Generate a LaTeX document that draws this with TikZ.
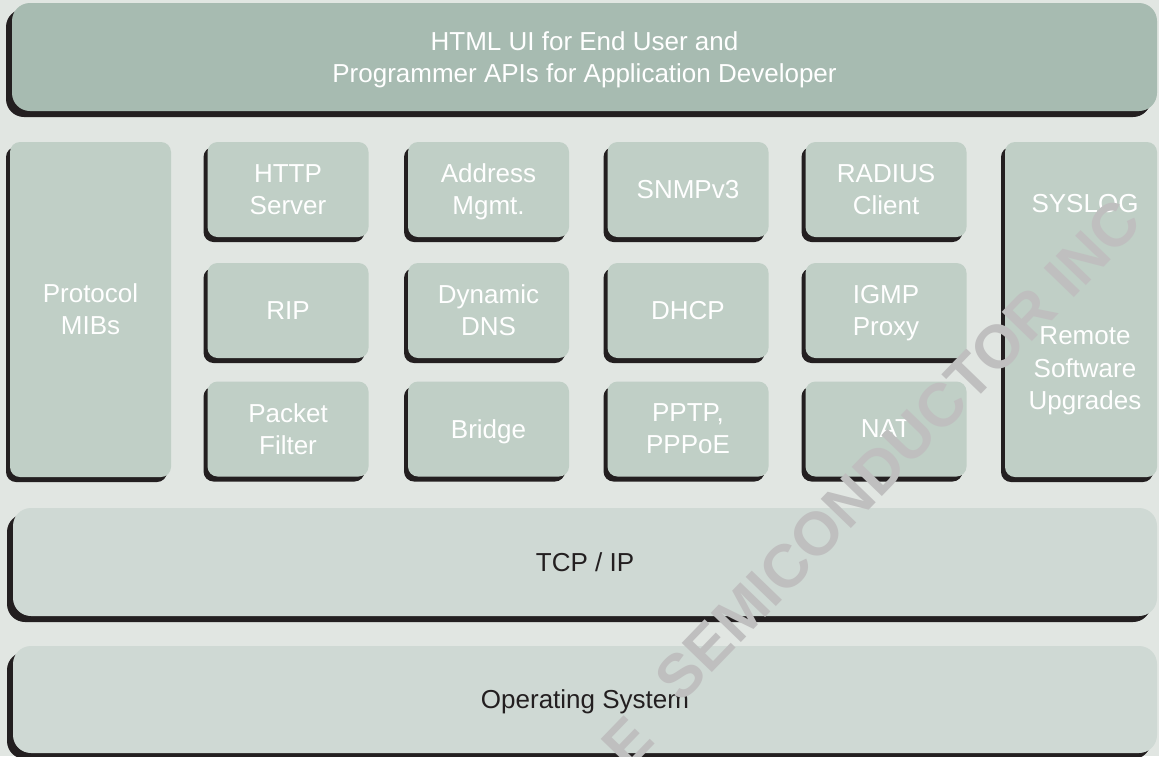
\documentclass[tikz,border=0pt]{standalone}
\usepackage{fontspec}
\setmainfont{Liberation Sans}
\usetikzlibrary{shadows}
\definecolor{bgc}{HTML}{E1E6E2}
\definecolor{topc}{HTML}{A7BBB1}
\definecolor{boxc}{HTML}{C0CFC6}
\definecolor{layc}{HTML}{CFD9D4}
\definecolor{shc}{HTML}{231F20}
\definecolor{wmc}{HTML}{BFBFBF}
\newcommand{\NoDepth}[1]{\raisebox{0pt}[\height][0pt]{#1}}
\tikzset{
  base/.style={rounded corners=#1, inner sep=0pt, align=center,
    font=\fontsize{26}{32}\selectfont},
  smallbox/.style={base=10pt, fill=boxc, text=white,
    minimum width=161pt, minimum height=95pt,
    drop shadow={shadow xshift=-4pt, shadow yshift=-5pt, fill=shc, opacity=1}},
  tallbox/.style={base=10pt, fill=boxc, text=white,
    minimum width=161pt, minimum height=335pt,
    drop shadow={shadow xshift=-4pt, shadow yshift=-5pt, fill=shc, opacity=1}},
  bigbox/.style={base=18pt, minimum width=1145pt, minimum height=108pt,
    drop shadow={shadow xshift=-6pt, shadow yshift=-6pt, fill=shc, opacity=1}},
  txt/.style={inner sep=0pt, align=center, text=white,
    font=\fontsize{26}{32.5}\selectfont},
  wm/.style={inner sep=0pt, rotate=46, text=wmc,
    font=\fontsize{61}{61}\selectfont\bfseries}
}
\begin{document}
\begin{tikzpicture}[x=1pt,y=-1pt]
\fill[bgc] (0,0) rectangle (1159,756);
\useasboundingbox (0,0) rectangle (1159,756);
% top layer
\node[bigbox, fill=topc, text=white] (ui) at (584.5,57)
  {HTML UI for End User and\\\NoDepth{Programmer APIs for Application Developer}};
% left column
\node[tallbox] (mib) at (90.5,309.5) {Protocol\\MIBs};
% row 1
\node[smallbox] (http) at (288,189.5) {HTTP\\Server};
\node[smallbox] (addr) at (488.5,189.5) {Address\\\NoDepth{Mgmt.}};
\node[smallbox] (snmp) at (688,189.5) {SNMPv3};
\node[smallbox] (radius) at (886,189.5) {RADIUS\\Client};
% row 2
\node[smallbox] (rip) at (288,310.5) {RIP};
\node[smallbox] (ddns) at (488.5,310.5) {Dynamic\\DNS};
\node[smallbox] (dhcp) at (688,310.5) {DHCP};
\node[smallbox] (igmp) at (886,310.5) {IGMP\\\NoDepth{Proxy}};
% row 3
\node[smallbox] (pf) at (288,429) {Packet\\Filter};
\node[smallbox] (bridge) at (488.5,429) {\NoDepth{Bridge}};
\node[smallbox] (pptp) at (688,429) {PPTP,\\PPPoE};
\node[smallbox] (nat) at (886,429) {NAT};
% right column
\node[tallbox, minimum width=152pt] (sys) at (1081,309.5) {};
\node[txt] (syslog) at (1085,204) {SYSLOG};
\node[txt] (rsu) at (1085,368.5) {Remote\\Software\\\NoDepth{Upgrades}};
% lower layers
\node[bigbox, fill=layc, text=shc, minimum width=1144pt] (tcp) at (585,562) {TCP / IP};
\node[bigbox, fill=layc, text=shc, minimum width=1144pt, minimum height=107pt] (os) at (585,699.5) {\NoDepth{Operating System}};
% watermark
\begin{scope}
\clip (0,0) rectangle (1159,756);
\node[wm] (mark) at (898,450) {SEMICONDUCTOR INC};
\node[wm] (markE) at (628,742) {E};
\end{scope}
\end{tikzpicture}
\end{document}
